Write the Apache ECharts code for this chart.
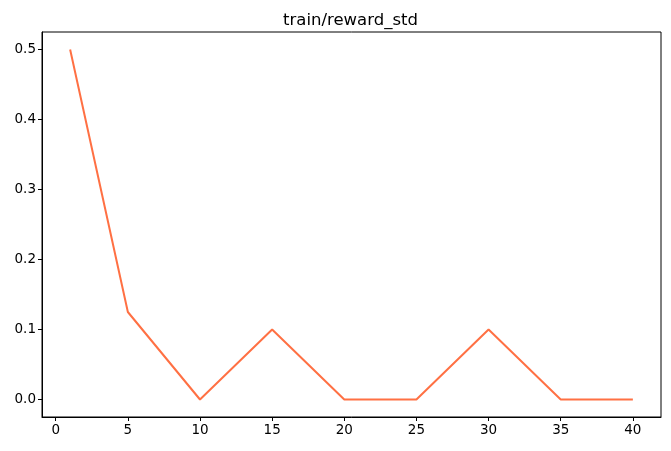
<!DOCTYPE html>
<html>
<head>
<meta charset="utf-8">
<script src="https://cdn.jsdelivr.net/npm/echarts@6/dist/echarts.min.js"></script>
<style>html,body{margin:0;padding:0;background:#fff}#c{width:671px;height:451px}</style>
</head>
<body>
<div id="c"></div>
<script>
const steps = [1, 5, 10, 15, 20, 25, 30, 35, 40];
const rewardStd = [0.5, 0.125, 0, 0.1, 0, 0, 0.1, 0, 0];
const xTicks = [0, 5, 10, 15, 20, 25, 30, 35, 40];
const yTicks = [0, 0.1, 0.2, 0.3, 0.4, 0.5];
const title = 'train/reward_std';

const chart = echarts.init(document.getElementById('c'), null, {renderer: 'canvas'});
const font = 'DejaVu Sans';
chart.setOption({
  animation: false,
  backgroundColor: '#fff',
  title: {text: title, left: 345.5, top: 7, textAlign: 'center',
    textStyle: {fontFamily: font, fontSize: 16.5, fontWeight: 'normal', color: '#000'}},
  grid: {left: 42, right: 10, top: 32, bottom: 34, show: true, borderColor: '#000', borderWidth: 1, containLabel: false},
  xAxis: {type: 'value', min: -0.95, max: 41.95,
    axisLine: {show: true, onZero: false, lineStyle: {color: '#000', width: 1}},
    splitLine: {show: false},
    axisTick: {show: true, inside: false, length: 4, customValues: xTicks, lineStyle: {color: '#000'}},
    axisLabel: {customValues: xTicks, color: '#000', fontFamily: font, fontSize: 13.5, margin: 6}},
  yAxis: {type: 'value', min: -0.025, max: 0.525,
    axisLine: {show: true, onZero: false, lineStyle: {color: '#000', width: 1}},
    splitLine: {show: false},
    axisTick: {show: true, inside: false, length: 4, customValues: yTicks, lineStyle: {color: '#000'}},
    axisLabel: {customValues: yTicks, color: '#000', fontFamily: font, fontSize: 13.5, margin: 6,
      formatter: v => v.toFixed(1)}},
  series: [{type: 'line', data: steps.map((s, i) => [s, rewardStd[i]]), showSymbol: false,
    lineStyle: {color: '#ff7043', width: 2}, itemStyle: {color: '#ff7043'}}]
});
</script>
</body>
</html>
